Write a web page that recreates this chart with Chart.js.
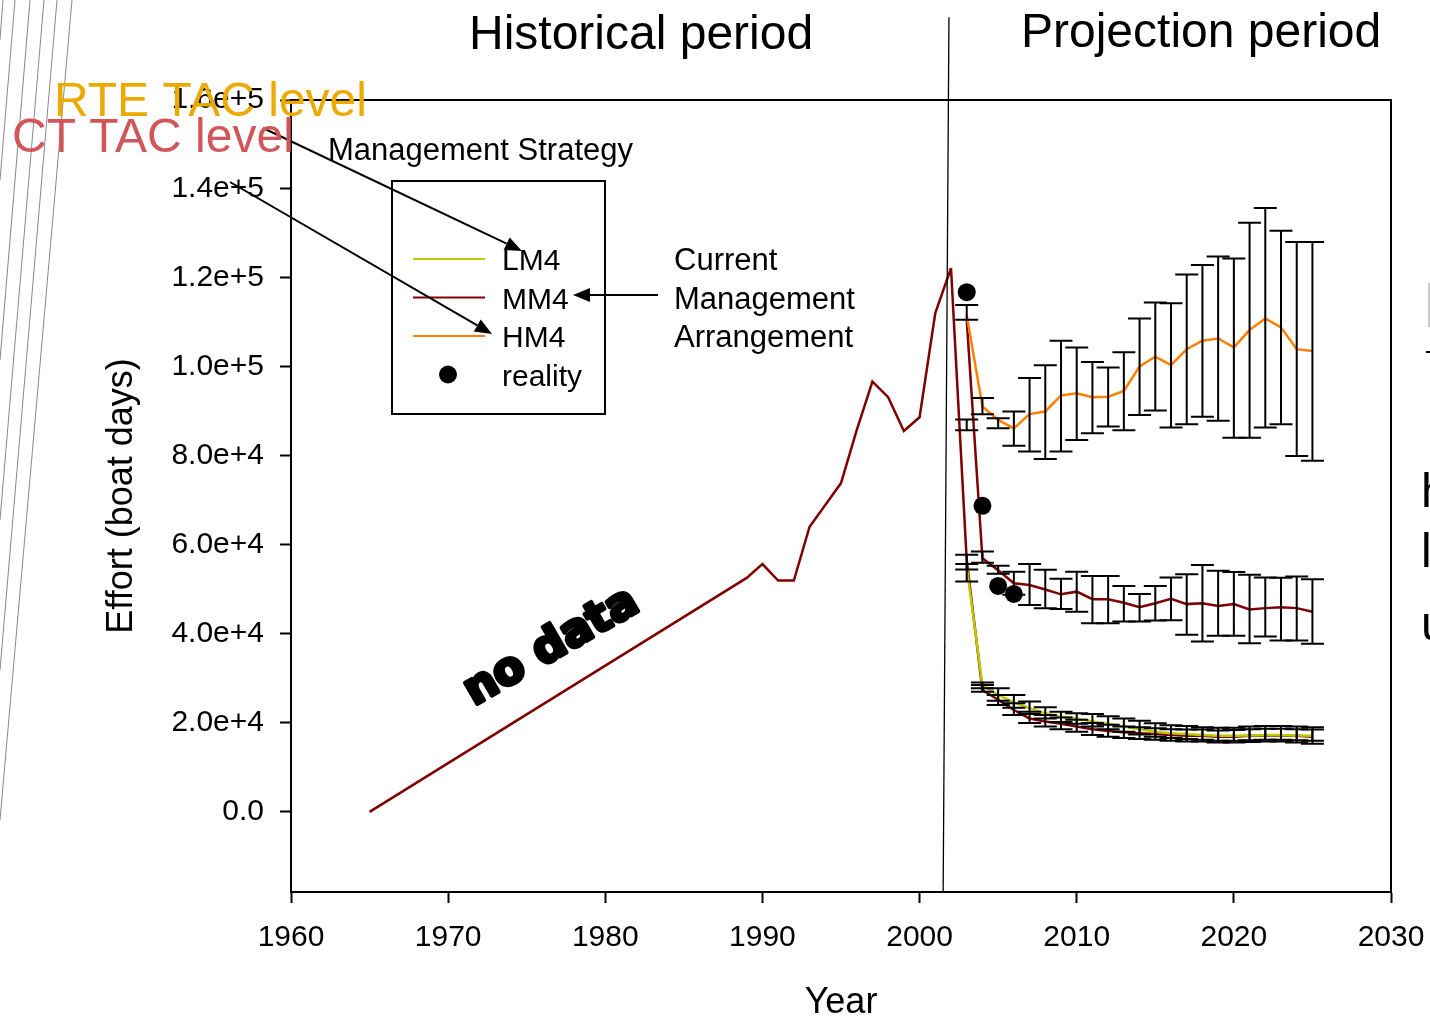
<!DOCTYPE html>
<html>
<head>
<meta charset="utf-8">
<script src="https://cdn.jsdelivr.net/npm/chart.js@4/dist/chart.umd.min.js"></script>
<style>
html,body{margin:0;padding:0;background:#fff;}
#wrap{width:1430px;height:1021px;position:relative;}
canvas{display:block;}
</style>
</head>
<body>
<div id="wrap"><canvas id="c" width="1430" height="1021"></canvas></div>
<script>
// ---------------- DATA ----------------
const histYears  = [1965, 1989, 1990, 1991, 1992, 1993, 1994, 1995, 1996, 1997, 1998, 1999, 2000, 2001, 2002];
const histEffort = [0, 52600, 55700, 52000, 52000, 64100, 69000, 73900, 85800, 96700, 93200, 85600, 88700, 112100, 122200];

const projYears = [2003, 2004, 2005, 2006, 2007, 2008, 2009, 2010, 2011, 2012, 2013, 2014, 2015, 2016, 2017, 2018, 2019, 2020, 2021, 2022, 2023, 2024, 2025];

const lm4Effort = [55000, 28500, 26300, 24600, 23300, 22200, 21400, 21000, 20300, 19800, 19200, 18600, 18000, 17700, 17500, 17300, 17100, 17100, 17200, 17300, 17300, 17200, 17100];
const lm4High   = [55700, 29100, 27800, 26300, 24800, 23500, 22500, 22200, 22000, 21500, 21000, 20500, 19900, 19500, 19300, 19000, 18900, 18900, 19200, 19300, 19300, 19200, 19000];
const lm4Low    = [54500, 27800, 25000, 23400, 22000, 21000, 20200, 19800, 19200, 18600, 18000, 17400, 16900, 16600, 16400, 16200, 16000, 16000, 16100, 16200, 16200, 16100, 16000];

const lowYears  = [2002, 2003, 2004, 2005, 2006, 2007, 2008, 2009, 2010, 2011, 2012, 2013, 2014, 2015, 2016, 2017, 2018, 2019, 2020, 2021, 2022, 2023, 2024, 2025];
const lowEffort = [122200, 56600, 27400, 25200, 22900, 21000, 20300, 19800, 19200, 18600, 18200, 17900, 17700, 17500, 17300, 17100, 17100, 16900, 16900, 17100, 17200, 17200, 17100, 16900];
const lowHigh   = [57800, 28500, 26300, 24400, 22500, 21800, 21200, 20700, 20000, 19600, 19200, 19000, 18800, 18600, 18500, 18500, 18300, 18400, 18600, 18700, 18700, 18600, 18500];
const lowLow    = [51800, 27000, 24000, 21800, 20000, 19200, 18600, 18000, 17300, 16900, 16600, 16400, 16200, 16000, 15800, 15800, 15600, 15600, 15700, 15800, 15800, 15600, 15300];

const mm4Effort = [110600, 57000, 54300, 51400, 51000, 50000, 48900, 49500, 47800, 47800, 47000, 46000, 46900, 47900, 46700, 46900, 46300, 46700, 45500, 45800, 46000, 45800, 45000];
const mm4High   = [88200, 58500, 55300, 54000, 55700, 54400, 52400, 54000, 53000, 53000, 50800, 49000, 50800, 52700, 53400, 55500, 54200, 53900, 53300, 52700, 52600, 52900, 52300];
const mm4Low    = [85800, 56000, 53500, 48800, 46500, 45800, 45600, 45000, 42400, 42400, 42800, 42800, 43000, 43100, 39800, 38300, 39600, 39600, 37900, 39400, 38500, 38500, 37800];

const hm4Effort = [111700, 91100, 88100, 86200, 89400, 90000, 93600, 94100, 93200, 93300, 94600, 100100, 102300, 100400, 104000, 105900, 106400, 104400, 108300, 110900, 108900, 104000, 103600];
const hm4High   = [113900, 93000, 88500, 90000, 97500, 100400, 105900, 104400, 101100, 99900, 103300, 110900, 114500, 114300, 120800, 122900, 124800, 124400, 132400, 135700, 130600, 128100, 128100];
const hm4Low    = [110600, 89400, 86200, 82300, 81000, 79300, 81000, 83600, 85100, 86600, 85800, 89200, 90200, 86400, 87100, 88800, 87900, 84100, 84100, 86400, 87100, 80000, 78900];

const realityYears  = [2003, 2004, 2005, 2006];
const realityEffort = [116800, 68800, 50800, 49000];

const xTickValues = [1960, 1970, 1980, 1990, 2000, 2010, 2020, 2030];
const xTickLabels = ['1960', '1970', '1980', '1990', '2000', '2010', '2020', '2030'];
const yTickValues = [0, 20000, 40000, 60000, 80000, 100000, 120000, 140000, 160000];
const yTickLabels = ['0.0', '2.0e+4', '4.0e+4', '6.0e+4', '8.0e+4', '1.0e+5', '1.2e+5', '1.4e+5', '1.6e+5'];

const legendLabels = ['LM4', 'MM4', 'HM4', 'reality'];
const dividerYears = [2001.87, 2001.5];
const dividerEffort = [178600, -18000];

// ---------------- STYLE ----------------
const C_LM4 = '#BFC800', C_MM4 = '#800000', C_HM4 = '#FF8000';
const FONT = '"Liberation Sans", Arial, sans-serif';

function pts(xs, ys) { return xs.map((x, i) => ({x: x, y: ys[i]})); }

const decor = {
  id: 'decor',
  beforeDatasetDraw(chart, args) {
    if (args.index !== 0) return;
    const ctx = chart.ctx, xs = chart.scales.x, ys = chart.scales.y;
    const sets = [[hm4Low, hm4High], [mm4Low, mm4High], [lowLow, lowHigh], [lm4Low, lm4High]];
    ctx.save();
    ctx.strokeStyle = '#000';
    ctx.lineWidth = 2;
    sets.forEach(([lo, hi]) => {
      projYears.forEach((yr, i) => {
        const px = xs.getPixelForValue(yr);
        const y1 = ys.getPixelForValue(hi[i]);
        const y2 = ys.getPixelForValue(lo[i]);
        ctx.beginPath();
        ctx.moveTo(px, y1); ctx.lineTo(px, y2);
        ctx.moveTo(px - 11.5, y1); ctx.lineTo(px + 11.5, y1);
        ctx.moveTo(px - 11.5, y2); ctx.lineTo(px + 11.5, y2);
        ctx.stroke();
      });
    });
    ctx.restore();
  },
  afterDraw(chart) {
    const ctx = chart.ctx, a = chart.chartArea, xs = chart.scales.x, ys = chart.scales.y;
    ctx.save();
    // frame top & right
    ctx.strokeStyle = '#000'; ctx.lineWidth = 2;
    ctx.beginPath();
    ctx.moveTo(a.left, a.top); ctx.lineTo(a.right, a.top); ctx.lineTo(a.right, a.bottom);
    ctx.stroke();
    // divider
    ctx.lineWidth = 1.3;
    ctx.beginPath();
    ctx.moveTo(xs.getPixelForValue(dividerYears[0]), ys.getPixelForValue(dividerEffort[0]));
    ctx.lineTo(xs.getPixelForValue(dividerYears[1]), ys.getPixelForValue(dividerEffort[1]));
    ctx.stroke();

    // left grey decorative lines
    ctx.strokeStyle = '#888'; ctx.lineWidth = 1;
    [[3, 0, 0, 40], [15, 0, 0, 180], [30, 0, 0, 360], [44, 0, 0, 520], [57, 0, 0, 670], [72, 0, 0, 820]].forEach(l => {
      ctx.beginPath(); ctx.moveTo(l[0], l[1]); ctx.lineTo(l[2], l[3]); ctx.stroke();
    });

    // legend box
    ctx.strokeStyle = '#000'; ctx.lineWidth = 2;
    ctx.strokeRect(392, 181, 213, 233);
    const legColors = [C_LM4, C_MM4, C_HM4];
    const legY = [259, 297.5, 336, 374.5];
    ctx.font = '30px ' + FONT; ctx.fillStyle = '#000'; ctx.textBaseline = 'alphabetic'; ctx.textAlign = 'left';
    legColors.forEach((c, i) => {
      ctx.strokeStyle = c; ctx.lineWidth = 2;
      ctx.beginPath(); ctx.moveTo(413, legY[i]); ctx.lineTo(485, legY[i]); ctx.stroke();
    });
    ctx.beginPath(); ctx.arc(448, legY[3], 9, 0, Math.PI * 2); ctx.fill();
    legendLabels.forEach((t, i) => ctx.fillText(t, 502, legY[i] + 11));

    // annotations
    ctx.font = '31px ' + FONT;
    ctx.fillText('Management Strategy', 328, 160);
    ctx.fillText('Current', 674, 270);
    ctx.fillText('Management', 674, 308.5);
    ctx.fillText('Arrangement', 674, 347);

    ctx.font = '48px ' + FONT;
    ctx.fillText('Historical period', 469, 49);
    ctx.fillText('Projection period', 1021, 47);

    // arrows
    function arrow(x1, y1, x2, y2) {
      const ang = Math.atan2(y2 - y1, x2 - x1), L = 17, W = 7;
      const bx = x2 - L * Math.cos(ang), by = y2 - L * Math.sin(ang);
      ctx.strokeStyle = '#000'; ctx.fillStyle = '#000'; ctx.lineWidth = 2;
      ctx.beginPath(); ctx.moveTo(x1, y1); ctx.lineTo(bx, by); ctx.stroke();
      ctx.beginPath();
      ctx.moveTo(x2, y2);
      ctx.lineTo(bx + W * Math.sin(ang), by - W * Math.cos(ang));
      ctx.lineTo(bx - W * Math.sin(ang), by + W * Math.cos(ang));
      ctx.closePath(); ctx.fill();
    }
    arrow(263, 128, 522, 251);
    arrow(230, 182, 492, 334);
    arrow(658, 295, 573, 295);

    // TAC labels
    ctx.font = '48px ' + FONT;
    ctx.fillStyle = '#ECAA00';
    ctx.fillText('RTE TAC level', 54, 116);
    ctx.fillStyle = '#D2555A';
    ctx.fillText('CT TAC level', 12, 152);

    // no data
    ctx.save();
    ctx.translate(474, 706);
    ctx.rotate(-30 * Math.PI / 180);
    ctx.font = 'bold 45px "DejaVu Sans", sans-serif';
    ctx.fillStyle = '#000'; ctx.strokeStyle = '#000'; ctx.lineWidth = 4; ctx.lineJoin = 'round';
    ctx.strokeText('no data', 0, 0);
    ctx.fillText('no data', 0, 0);
    ctx.restore();

    // right-edge clipped fragments
    ctx.fillStyle = '#000';
    ctx.font = '48px ' + FONT;
    ctx.fillText('h', 1421, 507);
    ctx.fillText('l', 1421, 567);
    ctx.fillText('u', 1421, 640);
    ctx.strokeStyle = '#999'; ctx.lineWidth = 1;
    ctx.beginPath(); ctx.moveTo(1429, 283); ctx.lineTo(1429, 327); ctx.stroke();
    ctx.fillRect(1426, 351, 4, 2);
    ctx.restore();
  }
};

Chart.defaults.color = '#000';
Chart.defaults.font.family = FONT;

new Chart(document.getElementById('c'), {
  type: 'line',
  data: {
    datasets: [
      {label: 'reality', data: pts(realityYears, realityEffort), showLine: false, pointRadius: 9, pointBackgroundColor: '#000', pointBorderWidth: 0, borderColor: '#000'},
      {label: 'LM4', data: pts(projYears, lm4Effort), borderColor: C_LM4, borderWidth: 2.5, pointRadius: 0, tension: 0},
      {label: 'HM4', data: pts(projYears, hm4Effort), borderColor: C_HM4, borderWidth: 2.5, pointRadius: 0, tension: 0},
      {label: 'MM4', data: pts(projYears, mm4Effort), borderColor: C_MM4, borderWidth: 2.5, pointRadius: 0, tension: 0},
      {label: 'MM4 low', data: pts(lowYears, lowEffort), borderColor: C_MM4, borderWidth: 2.5, pointRadius: 0, tension: 0},
      {label: 'history', data: pts(histYears, histEffort), borderColor: C_MM4, borderWidth: 2.5, pointRadius: 0, tension: 0}
    ]
  },
  options: {
    responsive: false,
    animation: false,
    events: [],
    layout: {padding: {top: 100, right: 39, left: 0, bottom: 0}},
    plugins: {legend: {display: false}, tooltip: {enabled: false}},
    scales: {
      x: {
        type: 'linear', min: 1960, max: 2030,
        afterBuildTicks: s => { s.ticks = xTickValues.map(v => ({value: v})); },
        afterFit: s => { s.height = 129; s.paddingLeft = 0; s.paddingRight = 0; },
        ticks: {autoSkip: false, maxRotation: 0, padding: 17, font: {size: 30}, color: '#000',
                callback: (v, i) => xTickLabels[i]},
        grid: {drawOnChartArea: false, drawTicks: true, tickLength: 11, color: '#000', tickWidth: 2},
        border: {display: true, color: '#000', width: 2},
        title: {display: true, text: 'Year', font: {size: 36, lineHeight: 1}, color: '#000', padding: {top: 0, bottom: 0}}
      },
      y: {
        type: 'linear', min: -18000, max: 160000,
        afterBuildTicks: s => { s.ticks = yTickValues.map(v => ({value: v})); },
        afterFit: s => { s.width = 291; s.paddingTop = 0; s.paddingBottom = 0; },
        ticks: {autoSkip: false, padding: 16, font: {size: 30}, color: '#000',
                callback: (v, i) => yTickLabels[i]},
        grid: {drawOnChartArea: false, drawTicks: true, tickLength: 11, color: '#000', tickWidth: 2},
        border: {display: true, color: '#000', width: 2},
        title: {display: true, text: 'Effort (boat days)', font: {size: 36, lineHeight: 1}, color: '#000', padding: {top: 104, bottom: 0}}
      }
    }
  },
  plugins: [decor]
});
</script>
</body>
</html>
